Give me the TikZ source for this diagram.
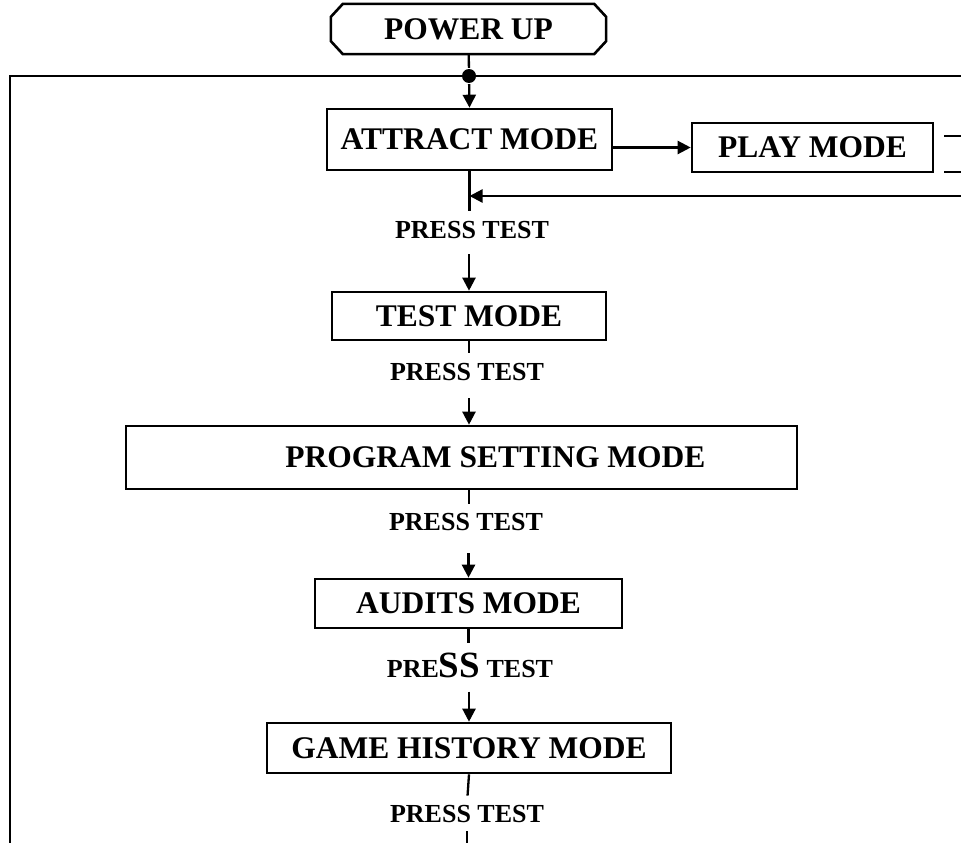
\documentclass[tikz,border=0pt]{standalone}
\usepackage{fontspec}
\setmainfont{Liberation Serif}
\usetikzlibrary{arrows.meta}
\begin{document}
\begin{tikzpicture}[x=1pt, y=-1pt, line join=miter, >={Triangle[length=13pt,width=13pt]}, line width=2.3pt,
	mode/.style={draw, line width=2.6pt, inner sep=0pt, font=\bfseries\fontsize{31.5}{36}\selectfont},
	press/.style={inner sep=0pt, anchor=base, font=\bfseries\fontsize{26}{30}\selectfont}]
	\useasboundingbox (0,0) rectangle (961,843);
	% boxes
	\node[inner sep=0pt, minimum width=273pt, minimum height=48pt, font=\bfseries\fontsize{31.5}{36}\selectfont] (power) at (468.5,29) {POWER UP};
	\draw[line width=2.6pt] ([xshift=12pt]power.north west) -- ([xshift=-12pt]power.north east) -- ([yshift=-13pt]power.north east) -- ([yshift=13pt]power.south east) -- ([xshift=-12pt]power.south east) -- ([xshift=12pt]power.south west) -- ([yshift=13pt]power.south west) -- ([yshift=-13pt]power.north west) -- cycle;
	\node[circle, fill, inner sep=0pt, minimum size=14pt] (dot) at (469,76) {};
	\node[mode, minimum width=285pt, minimum height=61pt] (attract) at (469.5,139.5) {ATTRACT MODE};
	\node[mode, minimum width=241pt, minimum height=49pt] (play) at (812.5,147.5) {PLAY MODE};
	\node[mode, minimum width=274pt, minimum height=48pt] (test) at (469,316) {TEST MODE};
	\node[mode, minimum width=671pt, minimum height=63pt] (prog) at (461.5,457.5) {\hspace{68pt}PROGRAM SETTING MODE};
	\node[mode, minimum width=307pt, minimum height=49pt] (audits) at (468.5,603.5) {AUDITS MODE};
	\node[mode, minimum width=404pt, minimum height=50pt] (history) at (469,748) {GAME HISTORY MODE};
	% labels
	\node[press] (pt1) at (472,238) {PRESS TEST};
	\node[press] (pt2) at (467,380) {PRESS TEST};
	\node[press] (pt3) at (466,530) {PRESS TEST};
	\node[press] (pt4) at (470,677) {PRE{\fontsize{37}{40}\selectfont SS} TEST};
	\node[press] (pt5) at (467,822) {PRESS TEST};
	% loop lines
	\coordinate (lb) at (10,843);
	\coordinate (rt) at (961,76);
	\coordinate (ret) at (961,196);
	\coordinate (bot) at (467,843);
	\draw (lb) |- (rt);
	\draw (power) -- (dot);
	\draw[->] (dot) -- (attract.north);
	\draw[->] (attract.east |- play.west) -- (play.west);
	\draw (944,136) -- (961,136);
	\draw (944,172) -- (961,172);
	\draw[->] (ret) -- (ret -| attract.south);
	% press test steps
	\draw[shorten >=9pt] (attract.south) -- (attract.south |- pt1.north);
	\draw[->, shorten <=15pt] (pt1.south -| test.north) -- (test.north);
	\draw[shorten >=9pt] (test.south) -- (test.south |- pt2.north);
	\draw[->, shorten <=17pt] (pt2.south -| test.south) -- (test.south |- prog.north);
	\draw[shorten >=8pt] (prog.south -| test.south) -- (test.south |- pt3.north);
	\draw[->, shorten <=22pt] (pt3.south -| audits.north) -- (audits.north);
	\draw[shorten >=8pt] (audits.south) -- (audits.south |- pt4.north);
	\draw[->, shorten <=13pt] (pt4.south -| history.north) -- (history.north);
	\draw[shorten >=8pt] (history.south) -- (pt5.north);
	\draw[shorten <=8pt] (pt5.south) -- (bot);
\end{tikzpicture}
\end{document}
